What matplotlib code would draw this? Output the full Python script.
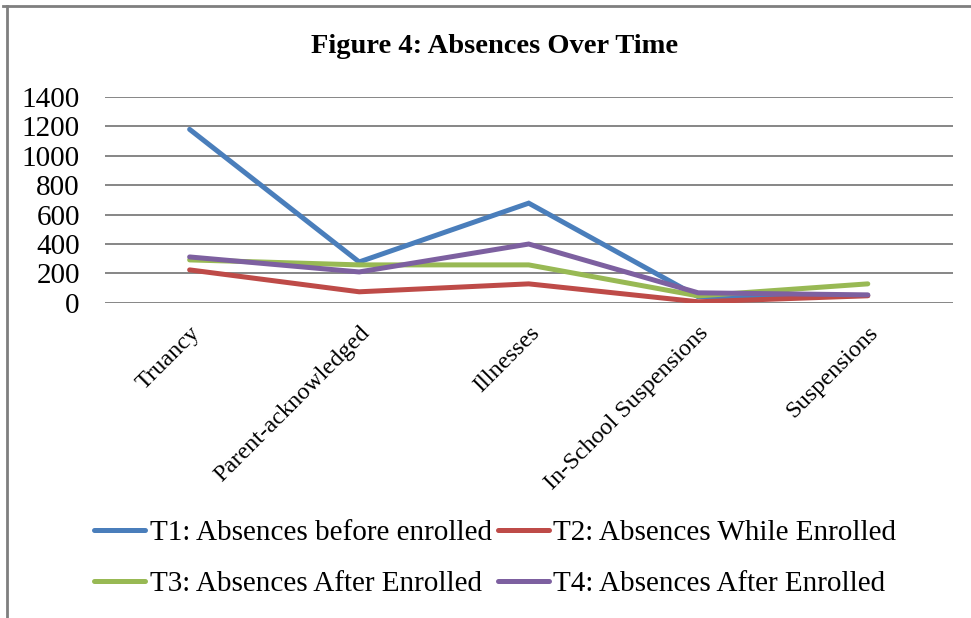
import numpy as np
import matplotlib
matplotlib.use("Agg")
import matplotlib.pyplot as plt
from matplotlib.lines import Line2D

plt.rcParams["font.family"] = ["Liberation Serif", "DejaVu Serif"]

categories = ["Truancy", "Parent-acknowledged", "Illnesses",
              "In-School Suspensions", "Suspensions"]
t1 = [1180, 278, 678, 41, 50]
t2 = [224, 75, 129, 7, 48]
t3 = [292, 258, 258, 47, 129]
t4 = [312, 210, 400, 68, 54]
labels = ["T1: Absences before enrolled", "T2: Absences While Enrolled",
          "T3: Absences After Enrolled", "T4: Absences After Enrolled"]
colors = ["#4A7EBB", "#BE4B48", "#98B954", "#7D60A0"]

fig = plt.figure(figsize=(9.71, 6.18), dpi=100)
ax = fig.add_axes([0.108, 0.510, 0.873, 0.333])

x = np.arange(len(categories))
for vals, lab, c in zip([t1, t2, t3, t4], labels, colors):
    ax.plot(x, vals, color=c, lw=3.6, label=lab, solid_capstyle="round",
            solid_joinstyle="miter")

ax.set_xlim(-0.5, len(categories) - 0.5)
ax.set_ylim(0, 1400)
ax.set_yticks(range(0, 1401, 200))
ax.yaxis.grid(True, color="#868686", lw=1.4)
ax.set_axisbelow(True)
for s in ax.spines.values():
    s.set_visible(False)
ax.tick_params(length=0)
ax.tick_params(axis="y", labelsize=21, pad=18)
ax.set_xticks(x)
ax.set_xticklabels(categories, rotation=45, ha="right",
                   rotation_mode="anchor", fontsize=17.5)
ax.tick_params(axis="x", pad=14)

fig.text(0.509, 0.925, "Figure 4: Absences Over Time", ha="center",
         va="center", fontsize=20.5, fontweight="bold")

# legend filled row by row: T1 T2 / T3 T4
order = [0, 2, 1, 3]
handles = [Line2D([], [], color=colors[i], lw=3.6, solid_capstyle="round")
           for i in order]
fig.legend(handles, [labels[i] for i in order], loc="center",
           bbox_to_anchor=(0.51, 0.096), ncol=2, frameon=False,
           fontsize=21, handlelength=1.75, handletextpad=0.15,
           columnspacing=0.2, labelspacing=0.85)

# chart frame (left and top edges)
fig.add_artist(Line2D([0.007, 0.007], [0.0, 0.99], color="#7f7f7f", lw=2,
                      transform=fig.transFigure))
fig.add_artist(Line2D([0.003, 1.0], [0.99, 0.99], color="#7f7f7f", lw=2,
                      transform=fig.transFigure))

fig.savefig("out.png", dpi=100)
